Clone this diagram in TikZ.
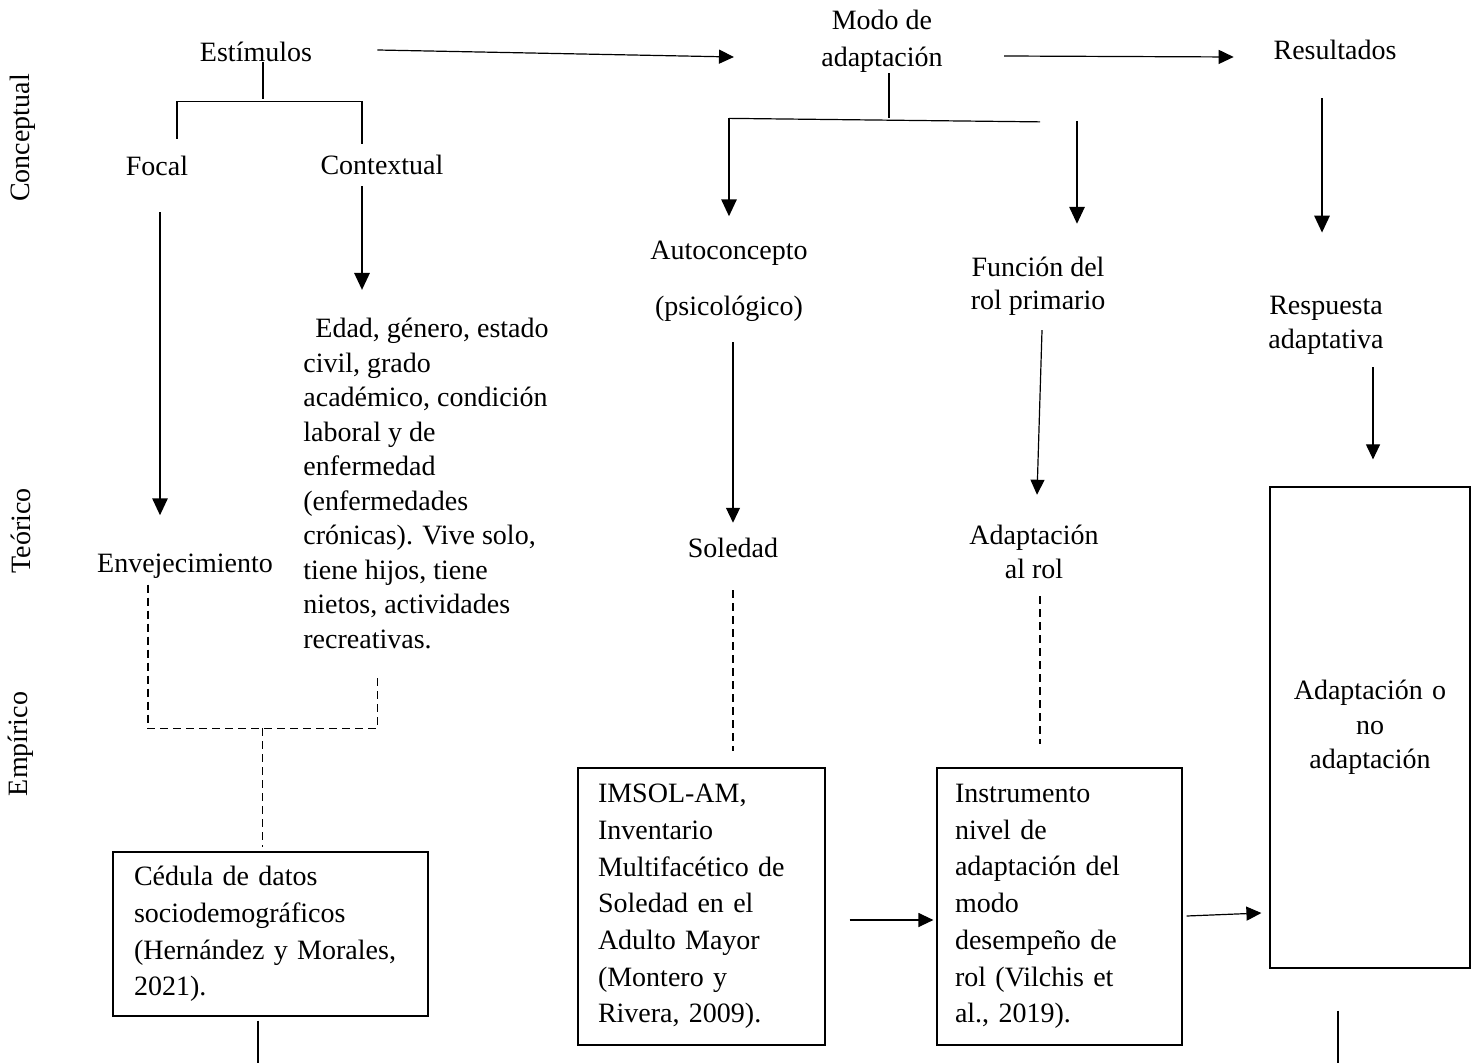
\documentclass[tikz,border=0pt]{standalone}
\usepackage{fontspec}
\setmainfont{Liberation Serif}
\usetikzlibrary{positioning,calc,arrows.meta}

\tikzset{
  txt/.style={inner sep=0pt, align=center, font=\fontsize{14}{17.25}\selectfont},
  boxed/.style={draw, line width=0.6pt, inner ysep=0pt, align=left, font=\fontsize{14}{18.35}\selectfont},
  arr/.style={line width=0.6pt, -{Triangle[length=7.5pt,width=7pt]}},
  bigarr/.style={line width=1.4pt, -{Triangle[length=8.5pt,width=7.5pt]}},
  dashline/.style={line width=0.6pt, dash pattern=on 4pt off 2.5pt},
  plain/.style={line width=0.6pt}
}

\begin{document}
\begin{tikzpicture}[x=0.5pt,y=-0.5pt]
	\useasboundingbox (0,0) rectangle (1481,1063);
	
	% niveles
	\node[txt,rotate=90] (conc) at (23,138) {Conceptual};
	\node[txt,rotate=90] (teor) at (21,531) {Teórico};
	\node[txt,rotate=90] (emp) at (21,744) {Empírico};
	
	% fila conceptual
	\node[txt] (estim) at (256,52) {Estímulos};
	\node[txt,font=\fontsize{14}{18.5}\selectfont] (modo) at (882,41.5) {Modo de\\adaptación};
	\node[txt] (result) at (1335,50) {Resultados};
	\node[txt] (focal) at (157,166) {Focal};
	\node[txt] (context) at (382,165) {Contextual};
	
	\node[txt] (auto) at (729,253) {Autoconcepto};
	\node[txt] (psico) at (729,309) {(psicológico)};
	\node[txt,font=\fontsize{14}{16.5}\selectfont] (funcion) at (1038,286.5) {Función del\\rol primario};
	\node[txt] (resp) at (1326,325.5) {Respuesta\\adaptativa};
	
	% fila teorica
	\node[txt] (envej) at (185,566) {Envejecimiento};
	\node[txt,align=left,anchor=north west] (ctxt) at (303,318) {\hspace*{6pt}Edad, género, estado\\civil, grado\\académico, condición\\laboral y de\\enfermedad\\(enfermedades\\crónicas). Vive solo,\\tiene hijos, tiene\\nietos, actividades\\recreativas.};
	\node[txt] (soledad) at (733,548) {Soledad};
	\node[txt,font=\fontsize{14}{17}\selectfont] (adrol) at (1034,552) {Adaptación\\al rol};
	
	% fila empirica
	\node[boxed,text width=136.5pt,inner xsep=10.5pt,minimum height=82pt] (cedula) at (270.5,934) {Cédula de datos\\sociodemográficos\\(Hernández y Morales,\\2021).};
	\node[boxed,text width=103.5pt,inner xsep=10pt,minimum height=138.5pt] (imsol) at (701.5,906.5) {IMSOL-AM,\\Inventario\\Multifacético de\\Soledad en el\\Adulto Mayor\\(Montero y\\Rivera, 2009).};
	\node[boxed,text width=104.5pt,inner xsep=9pt,minimum height=138.5pt] (instr) at (1059.5,906.5) {Instrumento\\nivel de\\adaptación del\\modo\\desempeño de\\rol (Vilchis et\\al., 2019).};
	\node[boxed,align=center,text width=80pt,inner xsep=10pt,minimum height=240.5pt,font=\fontsize{14}{17.25}\selectfont] (adapt) at (1370,727.5) {Adaptación o\\no\\adaptación};
	
	% flechas superiores
	\draw[arr] ($(estim.east)+(65,-2)$) -- ($(modo.west)+(-87,15.5)$);
	\draw[arr] ($(modo.east)+(61,14.5)$) -- ($(result.west)+(-39.5,7)$);
	
	% llaves
	\draw[plain] ($(estim.south)+(7,0)$) -- ++(0,37);
	\draw[plain] ($(focal.north)+(20,-17)$) |- ($(context.north)+(-20,-53)$) -- ($(context.north)+(-20,-11)$);
	\draw[plain] ($(modo.south)+(7,0)$) -- ++(0,45);
	\coordinate (mb) at ($(auto.north)+(0,-122)$);
	\draw[plain] (mb) -- ($(funcion.north)+(2,-135)$);
	
	% flechas gruesas
	\draw[bigarr] ($(focal.south)+(3,36)$) -- ($(envej.north)+(-25,-38)$);
	\draw[bigarr] ($(context.south)+(-20,11)$) -- ($(ctxt.north west)+(59,-28)$);
	\draw[bigarr] (mb) -- ($(auto.north)+(0,-24)$);
	\draw[bigarr] ($(funcion.north)+(39,-136)$) -- ($(funcion.north)+(39,-33)$);
	\draw[bigarr] ($(result.south)+(-13,38)$) -- ($(resp.north)+(-4,-63)$);
	
	% flechas finas
	\draw[arr] ($(psico.south)+(4,20)$) -- ($(soledad.north)+(0,-15)$);
	\draw[arr] ($(funcion.south)+(4,14)$) -- ($(adrol.north)+(3,-30)$);
	\draw[arr] ($(resp.south)+(47,12)$) -- ($(adapt.north)+(3,-27)$);
	
	% lineas discontinuas
	\draw[dashline] ($(envej.south)+(-37,6)$) |- ($(cedula.north)+(107,-123)$) -- ($(cedula.north)+(107,-175)$);
	\draw[dashline] ($(cedula.north)+(-8,-123)$) -- ($(cedula.north)+(-8,-4)$);
	\draw[dashline] ($(soledad.south)+(0,32)$) -- ($(imsol.north)+(31.5,-16)$);
	\draw[dashline] ($(adrol.south)+(6,17)$) -- ($(instr.north)+(-19.5,-23)$);
	
	% cajas
	\draw[arr] ($(imsol.east)+(24,13.5)$) -- ($(instr.west)+(-3,13.5)$);
	\draw[arr] ($(instr.east)+(4,9.5)$) -- ($(adapt.west)+(-8,185.5)$);
	\draw[plain] ($(cedula.south)+(-12.5,4)$) -- ($(cedula.south)+(-12.5,47)$);
	\draw[plain] ($(adapt.south)+(-32,42)$) -- ++(0,53);
\end{tikzpicture}
\end{document}
